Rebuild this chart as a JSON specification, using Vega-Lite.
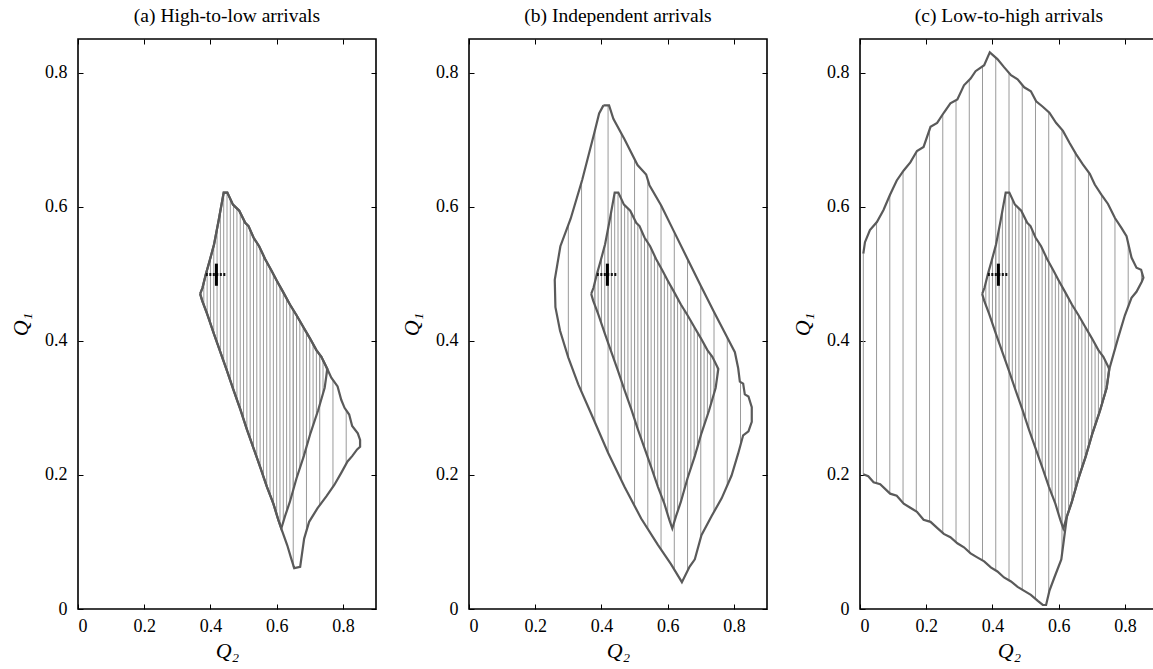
{
"$schema": "https://vega.github.io/schema/vega-lite/v6.json",
"background": "white",
"padding": {"left": 8, "top": 5, "right": 0, "bottom": 0},
"bounds": "flush",
"spacing": 93,
"config": {
  "font": "Liberation Serif",
  "view": {"stroke": "#000", "strokeWidth": 1.6},
  "axis": {"domain": false, "grid": false, "tickColor": "#000", "tickSize": -5, "tickWidth": 1, "labelFont": "Liberation Serif", "labelFontSize": 18, "labelColor": "#000", "titleFont": "Liberation Serif", "titleFontSize": 22, "titleFontStyle": "italic", "titleFontWeight": "normal", "titleColor": "#000"},
  "axisX": {"titlePadding": 5, "labelPadding": 13},
  "axisY": {"titlePadding": 12, "labelPadding": 16},
  "title": {"font": "Liberation Serif", "fontSize": 19.5, "fontWeight": "normal", "color": "#000", "offset": 12}
},
"datasets": {
  "inner": [
    {"i":1,"x":0.369,"y":0.470},{"i":2,"x":0.376,"y":0.479},{"i":3,"x":0.386,"y":0.499},{"i":4,"x":0.398,"y":0.520},{"i":5,"x":0.411,"y":0.544},{"i":6,"x":0.425,"y":0.580},{"i":7,"x":0.440,"y":0.621},{"i":8,"x":0.451,"y":0.621},{"i":9,"x":0.468,"y":0.603},{"i":10,"x":0.487,"y":0.594},{"i":11,"x":0.505,"y":0.576},{"i":12,"x":0.515,"y":0.571},{"i":13,"x":0.530,"y":0.554},{"i":14,"x":0.547,"y":0.541},{"i":15,"x":0.565,"y":0.522},{"i":16,"x":0.585,"y":0.504},{"i":17,"x":0.600,"y":0.490},{"i":18,"x":0.618,"y":0.474},{"i":19,"x":0.640,"y":0.454},{"i":20,"x":0.660,"y":0.438},{"i":21,"x":0.680,"y":0.421},{"i":22,"x":0.700,"y":0.404},{"i":23,"x":0.720,"y":0.386},{"i":24,"x":0.735,"y":0.376},{"i":25,"x":0.753,"y":0.358},{"i":26,"x":0.745,"y":0.330},{"i":27,"x":0.725,"y":0.296},{"i":28,"x":0.702,"y":0.262},{"i":29,"x":0.682,"y":0.228},{"i":30,"x":0.660,"y":0.195},{"i":31,"x":0.640,"y":0.160},{"i":32,"x":0.625,"y":0.138},{"i":33,"x":0.614,"y":0.120},{"i":34,"x":0.605,"y":0.133},{"i":35,"x":0.590,"y":0.157},{"i":36,"x":0.570,"y":0.183},{"i":37,"x":0.550,"y":0.212},{"i":38,"x":0.530,"y":0.240},{"i":39,"x":0.510,"y":0.268},{"i":40,"x":0.490,"y":0.298},{"i":41,"x":0.470,"y":0.326},{"i":42,"x":0.450,"y":0.355},{"i":43,"x":0.430,"y":0.383},{"i":44,"x":0.410,"y":0.411},{"i":45,"x":0.390,"y":0.440},{"i":46,"x":0.375,"y":0.460},{"i":47,"x":0.369,"y":0.470}
  ],
  "innerHatch": [
    {"x":0.38,"lo":0.453,"hi":0.487},{"x":0.39,"lo":0.440,"hi":0.506},{"x":0.40,"lo":0.4255,"hi":0.524},{"x":0.41,"lo":0.411,"hi":0.542},{"x":0.42,"lo":0.397,"hi":0.567},{"x":0.43,"lo":0.383,"hi":0.594},{"x":0.44,"lo":0.369,"hi":0.621},{"x":0.45,"lo":0.355,"hi":0.621},{"x":0.46,"lo":0.3405,"hi":0.611},{"x":0.47,"lo":0.326,"hi":0.602},{"x":0.48,"lo":0.312,"hi":0.5975},{"x":0.49,"lo":0.298,"hi":0.591},{"x":0.50,"lo":0.283,"hi":0.581},{"x":0.51,"lo":0.268,"hi":0.5735},{"x":0.52,"lo":0.254,"hi":0.565},{"x":0.53,"lo":0.240,"hi":0.554},{"x":0.54,"lo":0.226,"hi":0.546},{"x":0.55,"lo":0.212,"hi":0.538},{"x":0.56,"lo":0.1975,"hi":0.527},{"x":0.57,"lo":0.183,"hi":0.5175},{"x":0.58,"lo":0.170,"hi":0.5085},{"x":0.59,"lo":0.157,"hi":0.499},{"x":0.60,"lo":0.141,"hi":0.490},{"x":0.61,"lo":0.126,"hi":0.481},{"x":0.62,"lo":0.130,"hi":0.472},{"x":0.63,"lo":0.145,"hi":0.463},{"x":0.64,"lo":0.160,"hi":0.454},{"x":0.65,"lo":0.1775,"hi":0.446},{"x":0.66,"lo":0.195,"hi":0.438},{"x":0.67,"lo":0.210,"hi":0.4295},{"x":0.68,"lo":0.225,"hi":0.421},{"x":0.69,"lo":0.242,"hi":0.4125},{"x":0.70,"lo":0.259,"hi":0.404},{"x":0.71,"lo":0.274,"hi":0.395},{"x":0.72,"lo":0.289,"hi":0.386},{"x":0.73,"lo":0.3045,"hi":0.379},{"x":0.74,"lo":0.3215,"hi":0.371},{"x":0.75,"lo":0.3475,"hi":0.361}
  ],
  "outerA": [
    {"i":1,"x":0.369,"y":0.470},{"i":2,"x":0.376,"y":0.479},{"i":3,"x":0.386,"y":0.499},{"i":4,"x":0.398,"y":0.520},{"i":5,"x":0.411,"y":0.544},{"i":6,"x":0.425,"y":0.580},{"i":7,"x":0.440,"y":0.621},{"i":8,"x":0.451,"y":0.621},{"i":9,"x":0.468,"y":0.603},{"i":10,"x":0.487,"y":0.594},{"i":11,"x":0.505,"y":0.576},{"i":12,"x":0.515,"y":0.571},{"i":13,"x":0.530,"y":0.554},{"i":14,"x":0.547,"y":0.541},{"i":15,"x":0.565,"y":0.522},{"i":16,"x":0.585,"y":0.504},{"i":17,"x":0.600,"y":0.490},{"i":18,"x":0.618,"y":0.474},{"i":19,"x":0.640,"y":0.454},{"i":20,"x":0.660,"y":0.438},{"i":21,"x":0.680,"y":0.421},{"i":22,"x":0.700,"y":0.404},{"i":23,"x":0.720,"y":0.386},{"i":24,"x":0.735,"y":0.376},{"i":25,"x":0.753,"y":0.358},
    {"i":26,"x":0.765,"y":0.345},{"i":27,"x":0.784,"y":0.332},{"i":28,"x":0.795,"y":0.312},{"i":29,"x":0.805,"y":0.300},{"i":30,"x":0.819,"y":0.290},{"i":31,"x":0.828,"y":0.273},{"i":32,"x":0.845,"y":0.262},{"i":33,"x":0.852,"y":0.252},{"i":34,"x":0.852,"y":0.242},{"i":35,"x":0.843,"y":0.238},{"i":36,"x":0.828,"y":0.228},{"i":37,"x":0.814,"y":0.220},{"i":38,"x":0.795,"y":0.203},{"i":39,"x":0.774,"y":0.185},{"i":40,"x":0.750,"y":0.168},{"i":41,"x":0.723,"y":0.150},{"i":42,"x":0.698,"y":0.130},{"i":43,"x":0.683,"y":0.105},{"i":44,"x":0.671,"y":0.063},{"i":45,"x":0.653,"y":0.061},{"i":46,"x":0.644,"y":0.075},{"i":47,"x":0.632,"y":0.095},{"i":48,"x":0.614,"y":0.120},
    {"i":49,"x":0.605,"y":0.133},{"i":50,"x":0.590,"y":0.157},{"i":51,"x":0.570,"y":0.183},{"i":52,"x":0.550,"y":0.212},{"i":53,"x":0.530,"y":0.240},{"i":54,"x":0.510,"y":0.268},{"i":55,"x":0.490,"y":0.298},{"i":56,"x":0.470,"y":0.326},{"i":57,"x":0.450,"y":0.355},{"i":58,"x":0.430,"y":0.383},{"i":59,"x":0.410,"y":0.411},{"i":60,"x":0.390,"y":0.440},{"i":61,"x":0.375,"y":0.460},{"i":62,"x":0.369,"y":0.470}
  ],
  "hatchA": [
    {"x":0.65,"lo":0.062,"hi":0.446},{"x":0.69,"lo":0.117,"hi":0.4125},{"x":0.73,"lo":0.155,"hi":0.379},{"x":0.77,"lo":0.182,"hi":0.342},{"x":0.81,"lo":0.216,"hi":0.297},{"x":0.85,"lo":0.241,"hi":0.254}
  ],
  "outerB": [
    {"i":1,"x":0.406,"y":0.751},{"i":2,"x":0.423,"y":0.751},{"i":3,"x":0.436,"y":0.731},{"i":4,"x":0.470,"y":0.700},{"i":5,"x":0.509,"y":0.662},{"i":6,"x":0.535,"y":0.648},{"i":7,"x":0.545,"y":0.632},{"i":8,"x":0.580,"y":0.602},{"i":9,"x":0.620,"y":0.562},{"i":10,"x":0.660,"y":0.522},{"i":11,"x":0.700,"y":0.482},{"i":12,"x":0.740,"y":0.443},{"i":13,"x":0.780,"y":0.405},{"i":14,"x":0.803,"y":0.383},{"i":15,"x":0.813,"y":0.359},{"i":16,"x":0.818,"y":0.339},{"i":17,"x":0.828,"y":0.336},{"i":18,"x":0.833,"y":0.320},{"i":19,"x":0.844,"y":0.317},{"i":20,"x":0.854,"y":0.301},{"i":21,"x":0.854,"y":0.279},{"i":22,"x":0.844,"y":0.265},{"i":23,"x":0.828,"y":0.259},{"i":24,"x":0.813,"y":0.232},{"i":25,"x":0.793,"y":0.199},{"i":26,"x":0.763,"y":0.165},{"i":27,"x":0.732,"y":0.138},{"i":28,"x":0.702,"y":0.110},{"i":29,"x":0.682,"y":0.074},{"i":30,"x":0.666,"y":0.063},{"i":31,"x":0.643,"y":0.040},{"i":32,"x":0.610,"y":0.067},{"i":33,"x":0.570,"y":0.096},{"i":34,"x":0.520,"y":0.135},{"i":35,"x":0.470,"y":0.182},{"i":36,"x":0.420,"y":0.233},{"i":37,"x":0.370,"y":0.290},{"i":38,"x":0.330,"y":0.335},{"i":39,"x":0.300,"y":0.375},{"i":40,"x":0.275,"y":0.415},{"i":41,"x":0.261,"y":0.450},{"i":42,"x":0.259,"y":0.491},{"i":43,"x":0.276,"y":0.541},{"i":44,"x":0.307,"y":0.582},{"i":45,"x":0.342,"y":0.640},{"i":46,"x":0.378,"y":0.709},{"i":47,"x":0.393,"y":0.739},{"i":48,"x":0.406,"y":0.751}
  ],
  "hatchB": [
    {"x":0.30,"lo":0.375,"hi":0.573},{"x":0.34,"lo":0.324,"hi":0.637},{"x":0.38,"lo":0.278,"hi":0.713},{"x":0.42,"lo":0.233,"hi":0.751},{"x":0.46,"lo":0.192,"hi":0.709},{"x":0.50,"lo":0.154,"hi":0.671},{"x":0.54,"lo":0.119,"hi":0.640},{"x":0.58,"lo":0.089,"hi":0.602},{"x":0.62,"lo":0.059,"hi":0.562},{"x":0.66,"lo":0.057,"hi":0.522},{"x":0.70,"lo":0.106,"hi":0.482},{"x":0.74,"lo":0.145,"hi":0.443},{"x":0.78,"lo":0.184,"hi":0.405},{"x":0.82,"lo":0.245,"hi":0.338}
  ],
  "outerC": [
    {"i":1,"x":0.010,"y":0.530},{"i":2,"x":0.015,"y":0.547},{"i":3,"x":0.030,"y":0.565},{"i":4,"x":0.051,"y":0.577},{"i":5,"x":0.071,"y":0.595},{"i":6,"x":0.091,"y":0.618},{"i":7,"x":0.111,"y":0.639},{"i":8,"x":0.132,"y":0.654},{"i":9,"x":0.152,"y":0.666},{"i":10,"x":0.172,"y":0.683},{"i":11,"x":0.192,"y":0.689},{"i":12,"x":0.213,"y":0.719},{"i":13,"x":0.233,"y":0.725},{"i":14,"x":0.253,"y":0.740},{"i":15,"x":0.273,"y":0.754},{"i":16,"x":0.294,"y":0.760},{"i":17,"x":0.314,"y":0.781},{"i":18,"x":0.334,"y":0.791},{"i":19,"x":0.349,"y":0.802},{"i":20,"x":0.375,"y":0.811},{"i":21,"x":0.392,"y":0.830},{"i":22,"x":0.415,"y":0.820},{"i":23,"x":0.435,"y":0.808},{"i":24,"x":0.456,"y":0.796},{"i":25,"x":0.476,"y":0.790},{"i":26,"x":0.496,"y":0.778},{"i":27,"x":0.516,"y":0.772},{"i":28,"x":0.532,"y":0.757},{"i":29,"x":0.552,"y":0.749},{"i":30,"x":0.572,"y":0.740},{"i":31,"x":0.592,"y":0.725},{"i":32,"x":0.613,"y":0.713},{"i":33,"x":0.633,"y":0.695},{"i":34,"x":0.653,"y":0.678},{"i":35,"x":0.673,"y":0.663},{"i":36,"x":0.694,"y":0.649},{"i":37,"x":0.709,"y":0.633},{"i":38,"x":0.729,"y":0.618},{"i":39,"x":0.749,"y":0.604},{"i":40,"x":0.770,"y":0.583},{"i":41,"x":0.790,"y":0.568},{"i":42,"x":0.805,"y":0.556},{"i":43,"x":0.820,"y":0.524},{"i":44,"x":0.835,"y":0.509},{"i":45,"x":0.849,"y":0.506},{"i":46,"x":0.856,"y":0.494},{"i":47,"x":0.851,"y":0.488},{"i":48,"x":0.835,"y":0.473},{"i":49,"x":0.820,"y":0.464},{"i":50,"x":0.800,"y":0.438},{"i":51,"x":0.780,"y":0.405},{"i":52,"x":0.753,"y":0.358},{"i":53,"x":0.745,"y":0.330},{"i":54,"x":0.725,"y":0.296},{"i":55,"x":0.702,"y":0.262},{"i":56,"x":0.682,"y":0.228},{"i":57,"x":0.660,"y":0.195},{"i":58,"x":0.640,"y":0.160},{"i":59,"x":0.625,"y":0.138},{"i":60,"x":0.616,"y":0.104},{"i":61,"x":0.608,"y":0.074},{"i":62,"x":0.587,"y":0.047},{"i":63,"x":0.572,"y":0.027},{"i":64,"x":0.562,"y":0.006},{"i":65,"x":0.552,"y":0.006},{"i":66,"x":0.537,"y":0.012},{"i":67,"x":0.516,"y":0.021},{"i":68,"x":0.496,"y":0.027},{"i":69,"x":0.476,"y":0.033},{"i":70,"x":0.456,"y":0.041},{"i":71,"x":0.435,"y":0.047},{"i":72,"x":0.415,"y":0.056},{"i":73,"x":0.395,"y":0.062},{"i":74,"x":0.375,"y":0.071},{"i":75,"x":0.354,"y":0.077},{"i":76,"x":0.334,"y":0.083},{"i":77,"x":0.314,"y":0.092},{"i":78,"x":0.294,"y":0.098},{"i":79,"x":0.273,"y":0.107},{"i":80,"x":0.253,"y":0.112},{"i":81,"x":0.233,"y":0.121},{"i":82,"x":0.213,"y":0.130},{"i":83,"x":0.192,"y":0.133},{"i":84,"x":0.172,"y":0.145},{"i":85,"x":0.152,"y":0.151},{"i":86,"x":0.132,"y":0.157},{"i":87,"x":0.111,"y":0.169},{"i":88,"x":0.091,"y":0.172},{"i":89,"x":0.061,"y":0.186},{"i":90,"x":0.041,"y":0.189},{"i":91,"x":0.025,"y":0.198},{"i":92,"x":0.010,"y":0.201}
  ],
  "hatchC": [
    {"x":0.01,"lo":0.201,"hi":0.530},{"x":0.05,"lo":0.188,"hi":0.576},{"x":0.09,"lo":0.172,"hi":0.617},{"x":0.13,"lo":0.158,"hi":0.653},{"x":0.17,"lo":0.146,"hi":0.681},{"x":0.21,"lo":0.130,"hi":0.715},{"x":0.25,"lo":0.113,"hi":0.738},{"x":0.29,"lo":0.100,"hi":0.759},{"x":0.33,"lo":0.085,"hi":0.789},{"x":0.37,"lo":0.072,"hi":0.809},{"x":0.41,"lo":0.057,"hi":0.822},{"x":0.45,"lo":0.043,"hi":0.799},{"x":0.49,"lo":0.029,"hi":0.780},{"x":0.53,"lo":0.015,"hi":0.759},{"x":0.57,"lo":0.023,"hi":0.741},{"x":0.61,"lo":0.080,"hi":0.715},{"x":0.65,"lo":0.1775,"hi":0.680},{"x":0.69,"lo":0.242,"hi":0.652},{"x":0.73,"lo":0.3045,"hi":0.617},{"x":0.77,"lo":0.386,"hi":0.583},{"x":0.81,"lo":0.451,"hi":0.545},{"x":0.85,"lo":0.487,"hi":0.504}
  ],
  "cross": [
    {"x":0.418,"y":0.499,"xlo":0.386,"xhi":0.449,"ylo":0.482,"yhi":0.515}
  ]
},
"hconcat": [
  {
    "width": 298, "height": 570,
    "title": "(a) High-to-low arrivals",
    "resolve": {"axis": {"x": "independent", "y": "independent"}},
    "layer": [
      {"data": {"name": "hatchA"}, "mark": {"type": "rule", "color": "#9a9a9a", "strokeWidth": 1},
       "encoding": {
         "x": {"field": "x", "type": "quantitative", "scale": {"domain": [0, 0.9]}, "axis": {"orient": "bottom", "title": "Q₂", "values": [0, 0.2, 0.4, 0.6, 0.8], "labelExpr": "datum.value === 0 ? '0' : format(datum.value, '.1f')"}},
         "y": {"field": "lo", "type": "quantitative", "scale": {"domain": [0, 0.85]}, "axis": {"orient": "left", "title": "Q₁", "values": [0, 0.2, 0.4, 0.6, 0.8], "labelExpr": "datum.value === 0 ? '0' : format(datum.value, '.1f')"}},
         "y2": {"field": "hi"}}},
      {"data": {"name": "innerHatch"}, "mark": {"type": "rule", "color": "#9a9a9a", "strokeWidth": 1},
       "encoding": {"x": {"field": "x", "type": "quantitative", "scale": {"domain": [0, 0.9]}, "axis": null}, "y": {"field": "lo", "type": "quantitative", "scale": {"domain": [0, 0.85]}, "axis": null}, "y2": {"field": "hi"}}},
      {"data": {"name": "outerA"}, "mark": {"type": "line", "color": "#5a5a5a", "strokeWidth": 2.2},
       "encoding": {"x": {"field": "x", "type": "quantitative", "scale": {"domain": [0, 0.9]}, "axis": null}, "y": {"field": "y", "type": "quantitative", "scale": {"domain": [0, 0.85]}, "axis": null}, "order": {"field": "i"}}},
      {"data": {"name": "inner"}, "mark": {"type": "line", "color": "#5a5a5a", "strokeWidth": 2.2},
       "encoding": {"x": {"field": "x", "type": "quantitative", "scale": {"domain": [0, 0.9]}, "axis": null}, "y": {"field": "y", "type": "quantitative", "scale": {"domain": [0, 0.85]}, "axis": null}, "order": {"field": "i"}}},
      {"data": {"name": "cross"}, "mark": {"type": "rule", "color": "#111", "strokeWidth": 3, "strokeDash": [2, 1.5]},
       "encoding": {"x": {"field": "xlo", "type": "quantitative", "scale": {"domain": [0, 0.9]}, "axis": null}, "x2": {"field": "xhi"}, "y": {"field": "y", "type": "quantitative", "scale": {"domain": [0, 0.85]}, "axis": null}}},
      {"data": {"name": "cross"}, "mark": {"type": "rule", "color": "#000", "strokeWidth": 3},
       "encoding": {"x": {"field": "x", "type": "quantitative", "scale": {"domain": [0, 0.9]}, "axis": null}, "y": {"field": "ylo", "type": "quantitative", "scale": {"domain": [0, 0.85]}, "axis": null}, "y2": {"field": "yhi"}}},
      {"data": {"name": "cross"}, "mark": {"type": "point", "opacity": 0},
       "encoding": {"x": {"field": "x", "type": "quantitative", "scale": {"domain": [0, 0.9]}, "axis": {"orient": "top", "labels": false, "title": null, "values": [0, 0.2, 0.4, 0.6, 0.8]}}, "y": {"field": "y", "type": "quantitative", "scale": {"domain": [0, 0.85]}, "axis": {"orient": "right", "labels": false, "title": null, "values": [0, 0.2, 0.4, 0.6, 0.8]}}}}
    ]
  },
  {
    "width": 298, "height": 570,
    "title": "(b) Independent arrivals",
    "resolve": {"axis": {"x": "independent", "y": "independent"}},
    "layer": [
      {"data": {"name": "hatchB"}, "mark": {"type": "rule", "color": "#9a9a9a", "strokeWidth": 1},
       "encoding": {
         "x": {"field": "x", "type": "quantitative", "scale": {"domain": [0, 0.9]}, "axis": {"orient": "bottom", "title": "Q₂", "values": [0, 0.2, 0.4, 0.6, 0.8], "labelExpr": "datum.value === 0 ? '0' : format(datum.value, '.1f')"}},
         "y": {"field": "lo", "type": "quantitative", "scale": {"domain": [0, 0.85]}, "axis": {"orient": "left", "title": "Q₁", "values": [0, 0.2, 0.4, 0.6, 0.8], "labelExpr": "datum.value === 0 ? '0' : format(datum.value, '.1f')"}},
         "y2": {"field": "hi"}}},
      {"data": {"name": "innerHatch"}, "mark": {"type": "rule", "color": "#9a9a9a", "strokeWidth": 1},
       "encoding": {"x": {"field": "x", "type": "quantitative", "scale": {"domain": [0, 0.9]}, "axis": null}, "y": {"field": "lo", "type": "quantitative", "scale": {"domain": [0, 0.85]}, "axis": null}, "y2": {"field": "hi"}}},
      {"data": {"name": "outerB"}, "mark": {"type": "line", "color": "#5a5a5a", "strokeWidth": 2.2},
       "encoding": {"x": {"field": "x", "type": "quantitative", "scale": {"domain": [0, 0.9]}, "axis": null}, "y": {"field": "y", "type": "quantitative", "scale": {"domain": [0, 0.85]}, "axis": null}, "order": {"field": "i"}}},
      {"data": {"name": "inner"}, "mark": {"type": "line", "color": "#5a5a5a", "strokeWidth": 2.2},
       "encoding": {"x": {"field": "x", "type": "quantitative", "scale": {"domain": [0, 0.9]}, "axis": null}, "y": {"field": "y", "type": "quantitative", "scale": {"domain": [0, 0.85]}, "axis": null}, "order": {"field": "i"}}},
      {"data": {"name": "cross"}, "mark": {"type": "rule", "color": "#111", "strokeWidth": 3, "strokeDash": [2, 1.5]},
       "encoding": {"x": {"field": "xlo", "type": "quantitative", "scale": {"domain": [0, 0.9]}, "axis": null}, "x2": {"field": "xhi"}, "y": {"field": "y", "type": "quantitative", "scale": {"domain": [0, 0.85]}, "axis": null}}},
      {"data": {"name": "cross"}, "mark": {"type": "rule", "color": "#000", "strokeWidth": 3},
       "encoding": {"x": {"field": "x", "type": "quantitative", "scale": {"domain": [0, 0.9]}, "axis": null}, "y": {"field": "ylo", "type": "quantitative", "scale": {"domain": [0, 0.85]}, "axis": null}, "y2": {"field": "yhi"}}},
      {"data": {"name": "cross"}, "mark": {"type": "point", "opacity": 0},
       "encoding": {"x": {"field": "x", "type": "quantitative", "scale": {"domain": [0, 0.9]}, "axis": {"orient": "top", "labels": false, "title": null, "values": [0, 0.2, 0.4, 0.6, 0.8]}}, "y": {"field": "y", "type": "quantitative", "scale": {"domain": [0, 0.85]}, "axis": {"orient": "right", "labels": false, "title": null, "values": [0, 0.2, 0.4, 0.6, 0.8]}}}}
    ]
  },
  {
    "width": 298, "height": 570,
    "title": "(c) Low-to-high arrivals",
    "resolve": {"axis": {"x": "independent", "y": "independent"}},
    "layer": [
      {"data": {"name": "hatchC"}, "mark": {"type": "rule", "color": "#9a9a9a", "strokeWidth": 1},
       "encoding": {
         "x": {"field": "x", "type": "quantitative", "scale": {"domain": [0, 0.9]}, "axis": {"orient": "bottom", "title": "Q₂", "values": [0, 0.2, 0.4, 0.6, 0.8], "labelExpr": "datum.value === 0 ? '0' : format(datum.value, '.1f')"}},
         "y": {"field": "lo", "type": "quantitative", "scale": {"domain": [0, 0.85]}, "axis": {"orient": "left", "title": "Q₁", "values": [0, 0.2, 0.4, 0.6, 0.8], "labelExpr": "datum.value === 0 ? '0' : format(datum.value, '.1f')"}},
         "y2": {"field": "hi"}}},
      {"data": {"name": "innerHatch"}, "mark": {"type": "rule", "color": "#9a9a9a", "strokeWidth": 1},
       "encoding": {"x": {"field": "x", "type": "quantitative", "scale": {"domain": [0, 0.9]}, "axis": null}, "y": {"field": "lo", "type": "quantitative", "scale": {"domain": [0, 0.85]}, "axis": null}, "y2": {"field": "hi"}}},
      {"data": {"name": "outerC"}, "mark": {"type": "line", "color": "#5a5a5a", "strokeWidth": 2.2},
       "encoding": {"x": {"field": "x", "type": "quantitative", "scale": {"domain": [0, 0.9]}, "axis": null}, "y": {"field": "y", "type": "quantitative", "scale": {"domain": [0, 0.85]}, "axis": null}, "order": {"field": "i"}}},
      {"data": {"name": "inner"}, "mark": {"type": "line", "color": "#5a5a5a", "strokeWidth": 2.2},
       "encoding": {"x": {"field": "x", "type": "quantitative", "scale": {"domain": [0, 0.9]}, "axis": null}, "y": {"field": "y", "type": "quantitative", "scale": {"domain": [0, 0.85]}, "axis": null}, "order": {"field": "i"}}},
      {"data": {"name": "cross"}, "mark": {"type": "rule", "color": "#111", "strokeWidth": 3, "strokeDash": [2, 1.5]},
       "encoding": {"x": {"field": "xlo", "type": "quantitative", "scale": {"domain": [0, 0.9]}, "axis": null}, "x2": {"field": "xhi"}, "y": {"field": "y", "type": "quantitative", "scale": {"domain": [0, 0.85]}, "axis": null}}},
      {"data": {"name": "cross"}, "mark": {"type": "rule", "color": "#000", "strokeWidth": 3},
       "encoding": {"x": {"field": "x", "type": "quantitative", "scale": {"domain": [0, 0.9]}, "axis": null}, "y": {"field": "ylo", "type": "quantitative", "scale": {"domain": [0, 0.85]}, "axis": null}, "y2": {"field": "yhi"}}},
      {"data": {"name": "cross"}, "mark": {"type": "point", "opacity": 0},
       "encoding": {"x": {"field": "x", "type": "quantitative", "scale": {"domain": [0, 0.9]}, "axis": {"orient": "top", "labels": false, "title": null, "values": [0, 0.2, 0.4, 0.6, 0.8]}}, "y": {"field": "y", "type": "quantitative", "scale": {"domain": [0, 0.85]}, "axis": {"orient": "right", "labels": false, "title": null, "values": [0, 0.2, 0.4, 0.6, 0.8]}}}}
    ]
  }
]
}
